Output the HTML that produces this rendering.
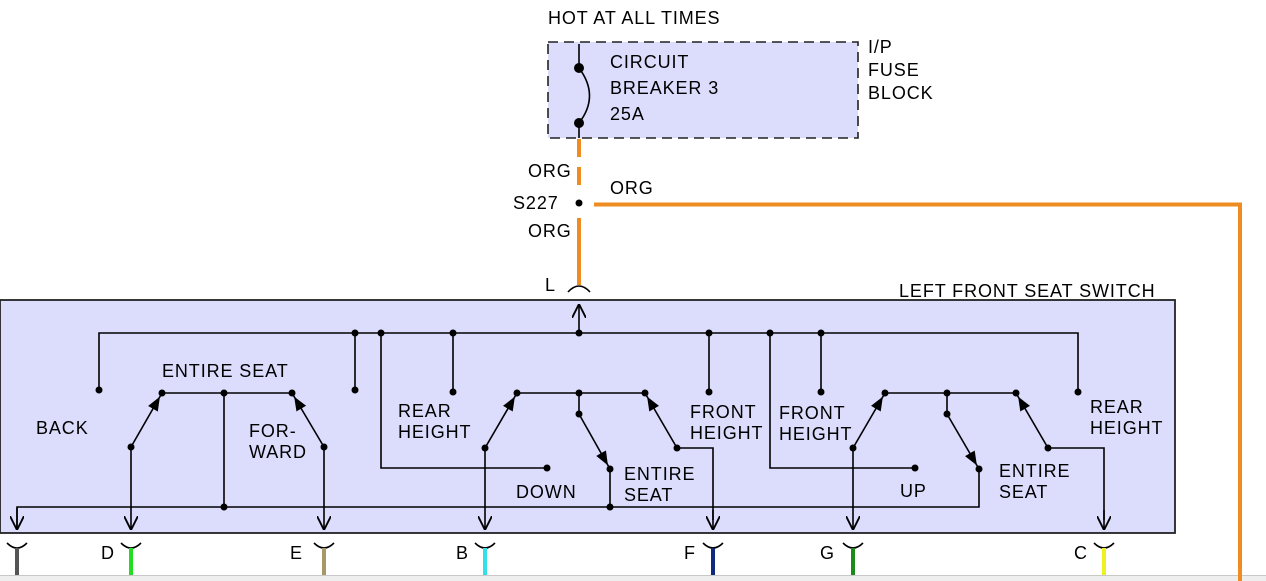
<!DOCTYPE html>
<html><head><meta charset="utf-8"><style>
html,body{margin:0;padding:0;background:#fff;}
svg{display:block;font-family:"Liberation Sans",Arial,sans-serif;font-size:18px;letter-spacing:0.9px;}
</style></head><body>
<svg width="1266" height="581" viewBox="0 0 1266 581" xmlns="http://www.w3.org/2000/svg">
<defs>
<marker id="fa" viewBox="0 0 10 10" refX="13" refY="5" markerWidth="14" markerHeight="14" markerUnits="userSpaceOnUse" orient="auto">
<path d="M0,1 L10,5 L0,9 z" fill="#000"/></marker>
<marker id="oa" viewBox="0 0 12 12" refX="12" refY="6" markerWidth="14" markerHeight="14" markerUnits="userSpaceOnUse" orient="auto">
<path d="M0,0 L12,6 L0,12" fill="none" stroke="#000" stroke-width="1.6"/></marker>
</defs>
<rect x="0" y="575" width="1266" height="6" fill="#eeeeee"/>
<line x1="0" y1="575.5" x2="1266" y2="575.5" stroke="#c8c8c8" stroke-width="1"/>
<!-- fuse block -->
<rect x="548" y="42" width="310" height="96" fill="#dcdcfc" stroke="#222" stroke-width="1.6" stroke-dasharray="10,6"/>
<text x="548" y="24">HOT AT ALL TIMES</text>
<text x="610" y="68">CIRCUIT</text>
<text x="610" y="94">BREAKER 3</text>
<text x="610" y="120">25A</text>
<text x="868" y="53">I/P</text>
<text x="868" y="76">FUSE</text>
<text x="868" y="99">BLOCK</text>
<g stroke="#000" stroke-width="1.6" fill="none">
<line x1="579" y1="44" x2="579" y2="68"/>
<path d="M579,68 Q600,96 579,123"/>
<line x1="579" y1="123" x2="579" y2="138"/>
</g>
<circle cx="579" cy="68" r="5" fill="#000"/>
<circle cx="579" cy="123" r="5" fill="#000"/>
<!-- orange wires -->
<g stroke="#ee8c22" stroke-width="4" fill="none">
<line x1="579" y1="139" x2="579" y2="190" stroke-dasharray="18,10"/>
<line x1="579" y1="218" x2="579" y2="285"/>
<polyline points="594,204.5 1240,204.5 1240,581"/>
</g>
<circle cx="579" cy="203" r="3.5" fill="#000"/>
<text x="528" y="177">ORG</text>
<text x="513" y="209">S227</text>
<text x="528" y="237">ORG</text>
<text x="610" y="194">ORG</text>
<text x="545" y="291">L</text>
<path d="M568,292 Q579,280 590,292" stroke="#000" stroke-width="1.6" fill="none"/>
<!-- switch box -->
<rect x="0" y="300" width="1175" height="233" fill="#dcdcfc" stroke="#222" stroke-width="1.8"/>
<text x="899" y="297">LEFT FRONT SEAT SWITCH</text>
<g stroke="#000" stroke-width="1.6" fill="none">
<line x1="579" y1="333" x2="579" y2="304" marker-end="url(#oa)"/>
<polyline points="99,390 99,333 1078,333 1078,392"/>
<line x1="355" y1="333" x2="355" y2="390"/>
<polyline points="381,333 381,468 547,468"/>
<line x1="453" y1="333" x2="453" y2="392"/>
<line x1="709" y1="333" x2="709" y2="392"/>
<polyline points="770,333 770,468 915,468"/>
<line x1="821" y1="333" x2="821" y2="392"/>
<line x1="162" y1="393" x2="292" y2="393"/>
<line x1="224" y1="393" x2="224" y2="507"/>
<line x1="131" y1="447" x2="162" y2="393" marker-end="url(#fa)"/>
<line x1="324" y1="447" x2="292" y2="393" marker-end="url(#fa)"/>
<line x1="131" y1="447" x2="131" y2="530" marker-end="url(#oa)"/>
<line x1="324" y1="447" x2="324" y2="530" marker-end="url(#oa)"/>
<polyline points="17,530 17,507 979,507 979,469"/>
<line x1="17" y1="508" x2="17" y2="530" marker-end="url(#oa)"/>
<line x1="517" y1="393" x2="645" y2="393"/>
<line x1="579" y1="393" x2="579" y2="414"/>
<line x1="579" y1="414" x2="610" y2="469" marker-end="url(#fa)"/>
<line x1="610" y1="469" x2="610" y2="507"/>
<line x1="485" y1="448" x2="517" y2="393" marker-end="url(#fa)"/>
<line x1="485" y1="448" x2="485" y2="530" marker-end="url(#oa)"/>
<line x1="677" y1="448" x2="645" y2="393" marker-end="url(#fa)"/>
<polyline points="677,448 713,448 713,520"/>
<line x1="713" y1="510" x2="713" y2="530" marker-end="url(#oa)"/>
<line x1="885" y1="393" x2="1016" y2="393"/>
<line x1="947" y1="393" x2="947" y2="414"/>
<line x1="947" y1="414" x2="979" y2="469" marker-end="url(#fa)"/>
<line x1="853" y1="448" x2="885" y2="393" marker-end="url(#fa)"/>
<line x1="853" y1="448" x2="853" y2="530" marker-end="url(#oa)"/>
<line x1="1048" y1="448" x2="1016" y2="393" marker-end="url(#fa)"/>
<polyline points="1048,448 1104,448 1104,520"/>
<line x1="1104" y1="510" x2="1104" y2="530" marker-end="url(#oa)"/>
</g>
<g fill="#000">
<circle cx="99" cy="390" r="3.5"/><circle cx="355" cy="333" r="3.5"/><circle cx="381" cy="333" r="3.5"/>
<circle cx="453" cy="333" r="3.5"/><circle cx="579" cy="333" r="3.5"/><circle cx="709" cy="333" r="3.5"/>
<circle cx="770" cy="333" r="3.5"/><circle cx="821" cy="333" r="3.5"/>
<circle cx="355" cy="390" r="3.5"/><circle cx="453" cy="392" r="3.5"/><circle cx="709" cy="392" r="3.5"/>
<circle cx="821" cy="392" r="3.5"/><circle cx="1078" cy="392" r="3.5"/>
<circle cx="547" cy="468" r="3.5"/><circle cx="915" cy="468" r="3.5"/>
<circle cx="162" cy="393" r="3.5"/><circle cx="224" cy="393" r="3.5"/><circle cx="292" cy="393" r="3.5"/>
<circle cx="131" cy="447" r="3.5"/><circle cx="324" cy="447" r="3.5"/><circle cx="224" cy="507" r="3.5"/>
<circle cx="517" cy="393" r="3.5"/><circle cx="579" cy="393" r="3.5"/><circle cx="645" cy="393" r="3.5"/>
<circle cx="579" cy="414" r="3.5"/><circle cx="610" cy="469" r="3.5"/><circle cx="610" cy="507" r="3.5"/>
<circle cx="485" cy="448" r="3.5"/><circle cx="677" cy="448" r="3.5"/>
<circle cx="885" cy="393" r="3.5"/><circle cx="947" cy="393" r="3.5"/><circle cx="1016" cy="393" r="3.5"/>
<circle cx="947" cy="414" r="3.5"/><circle cx="979" cy="469" r="3.5"/>
<circle cx="853" cy="448" r="3.5"/><circle cx="1048" cy="448" r="3.5"/>
</g>
<text x="36" y="434">BACK</text>
<text x="162" y="377">ENTIRE SEAT</text>
<text x="249" y="437">FOR-</text>
<text x="249" y="458">WARD</text>
<text x="398" y="417">REAR</text>
<text x="398" y="438">HEIGHT</text>
<text x="516" y="498">DOWN</text>
<text x="624" y="480">ENTIRE</text>
<text x="624" y="501">SEAT</text>
<text x="690" y="418">FRONT</text>
<text x="690" y="439">HEIGHT</text>
<text x="779" y="419">FRONT</text>
<text x="779" y="440">HEIGHT</text>
<text x="900" y="497">UP</text>
<text x="999" y="477">ENTIRE</text>
<text x="999" y="498">SEAT</text>
<text x="1090" y="413">REAR</text>
<text x="1090" y="434">HEIGHT</text>
<g fill="none" stroke-width="1.6" stroke="#000">
<path d="M7,543 Q17,553 27,543"/><path d="M121,543 Q131,553 141,543"/><path d="M314,543 Q324,553 334,543"/>
<path d="M475,543 Q485,553 495,543"/><path d="M703,543 Q713,553 723,543"/><path d="M843,543 Q853,553 863,543"/>
<path d="M1094,543 Q1104,553 1114,543"/>
</g>
<g stroke-width="4">
<line x1="17" y1="548" x2="17" y2="575" stroke="#555"/>
<line x1="131" y1="548" x2="131" y2="575" stroke="#22dd22"/>
<line x1="324" y1="548" x2="324" y2="575" stroke="#a89868"/>
<line x1="485" y1="548" x2="485" y2="575" stroke="#33e0e8"/>
<line x1="713" y1="548" x2="713" y2="575" stroke="#102a80"/>
<line x1="853" y1="548" x2="853" y2="575" stroke="#1a8a1a"/>
<line x1="1104" y1="548" x2="1104" y2="575" stroke="#f0f020"/>
</g>
<text x="101" y="559">D</text>
<text x="290" y="559">E</text>
<text x="456" y="559">B</text>
<text x="684" y="559">F</text>
<text x="820" y="559">G</text>
<text x="1074" y="559">C</text>
</svg>
</body></html>
